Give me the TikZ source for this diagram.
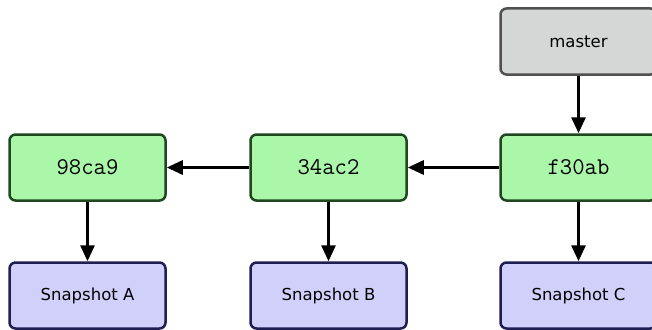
\documentclass[tikz,border=0pt]{standalone}
\usepackage{fontspec}
\setmainfont{DejaVu Sans}
\usetikzlibrary{arrows.meta}
\definecolor{commitfill}{RGB}{170,247,170}
\definecolor{commitline}{RGB}{32,72,32}
\definecolor{branchfill}{RGB}{212,215,214}
\definecolor{branchline}{RGB}{80,80,80}
\definecolor{snapfill}{RGB}{208,208,250}
\definecolor{snapline}{RGB}{30,30,82}

\begin{document}
\begin{tikzpicture}[x=1pt, y=-1pt,
  box/.style={draw, line width=2.5pt, rounded corners=6pt, minimum width=156pt, minimum height=66pt, inner sep=0pt},
  commit/.style={box, fill=commitfill, draw=commitline, font=\ttfamily\fontsize{24}{24}\selectfont},
  branch/.style={box, fill=branchfill, draw=branchline, font=\fontsize{16.5}{17}\selectfont},
  snap/.style={box, fill=snapfill, draw=snapline, font=\fontsize{16.5}{17}\selectfont},
  ptr/.style={-{Triangle[width=14pt,length=16pt]}, line width=3pt, black}]
\useasboundingbox (0,0) rectangle (652,329);
% branch
\node[branch] (master) at (578.5,41.5) {master};
% commits
\node[commit] (c1) at (87.5,167.5) {98ca9};
\node[commit] (c2) at (328.5,167.5) {34ac2};
\node[commit] (c3) at (578.5,167.5) {f30ab};
% snapshots
\node[snap] (s1) at (87.5,295.5) {Snapshot A};
\node[snap] (s2) at (328.5,295.5) {Snapshot B};
\node[snap] (s3) at (578.5,295.5) {Snapshot C};

\draw[ptr] (master) -- (c3);
\draw[ptr] (c3) -- (c2);
\draw[ptr] (c2) -- (c1);
\draw[ptr] (c1) -- (s1);
\draw[ptr] (c2) -- (s2);
\draw[ptr] (c3) -- (s3);
\end{tikzpicture}
\end{document}
